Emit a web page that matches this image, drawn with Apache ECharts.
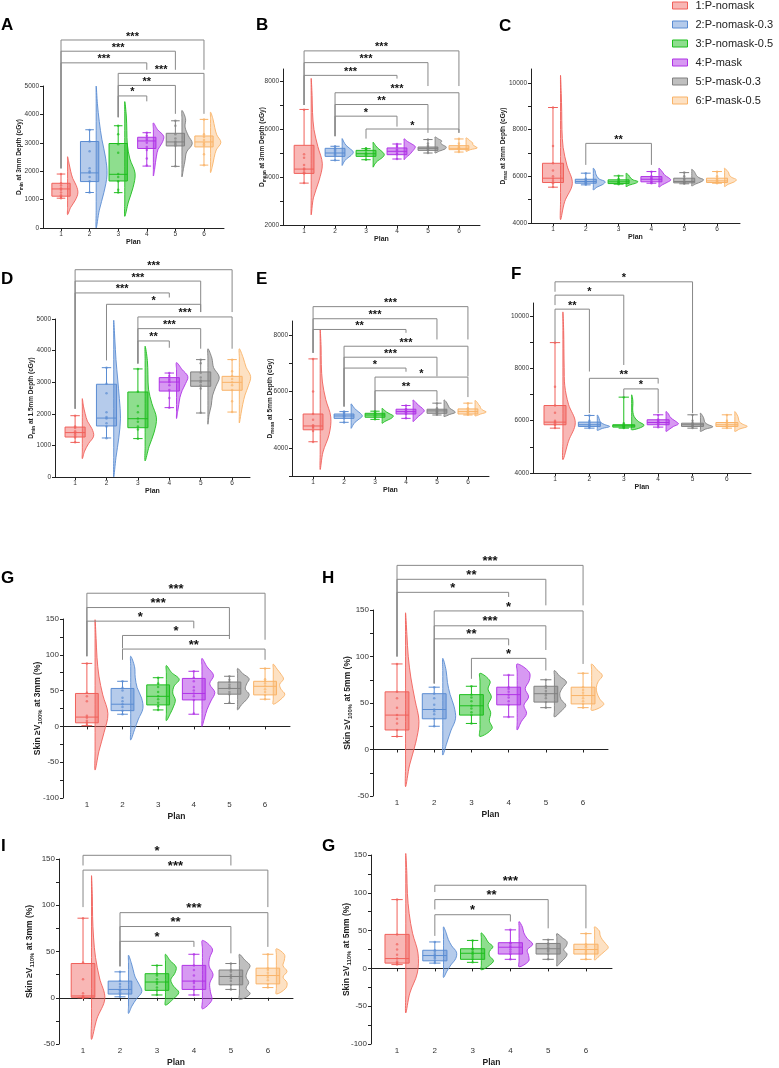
<!DOCTYPE html>
<html>
<head>
<meta charset="utf-8">
<script src="https://cdn.jsdelivr.net/npm/echarts@6/dist/echarts.min.js"></script>
<style>
html, body { margin: 0; padding: 0; background: #fff; }
#chart { width: 779px; height: 1068px; }
</style>
</head>
<body>
<div id="chart"></div>
<script>
// plan names + category ticks
var plans = ['1:P-nomask', '2:P-nomask-0.3', '3:P-nomask-0.5', '4:P-mask', '5:P-mask-0.3', '6:P-mask-0.5'];
var planTicks = [1, 2, 3, 4, 5, 6];

// box stats per plan: [min, q1, median, q3, max]
var boxA = [[1050, 1120, 1375, 1575, 1900], [1250, 1635, 1940, 3045, 3460], [1245, 1655, 1890, 2975, 3600], [2180, 2800, 3065, 3195, 3355], [2170, 2890, 3030, 3335, 3775], [2215, 2855, 3030, 3240, 3825]];
var boxB = [[3745, 4150, 4330, 5320, 6815], [4695, 4860, 5000, 5195, 5280], [4720, 4860, 4970, 5110, 5180], [4750, 4930, 5070, 5210, 5375], [5000, 5110, 5195, 5250, 5560], [5040, 5140, 5195, 5305, 5585]];
var boxC = [[5535, 5735, 5920, 6560, 8950], [5635, 5705, 5780, 5875, 6135], [5665, 5690, 5765, 5850, 6020], [5705, 5765, 5875, 5990, 6205], [5680, 5720, 5780, 5920, 6160], [5705, 5735, 5805, 5920, 6205]];
var boxD = [[1095, 1265, 1405, 1580, 1940], [1235, 1615, 1865, 2935, 3460], [1215, 1560, 1845, 2690, 3420], [2195, 2720, 3005, 3145, 3290], [2025, 2870, 3040, 3325, 3715], [2055, 2745, 2995, 3185, 3715]];
var boxE = [[4215, 4640, 4775, 5200, 7155], [4905, 5045, 5130, 5200, 5285], [5010, 5085, 5165, 5225, 5300], [5045, 5200, 5285, 5370, 5500], [5165, 5225, 5310, 5370, 5585], [5165, 5200, 5285, 5380, 5585]];
var boxF = [[5715, 5845, 5945, 6580, 8985], [5715, 5780, 5845, 5945, 6200], [5715, 5755, 5805, 5845, 6900], [5755, 5845, 5930, 6035, 6225], [5715, 5780, 5845, 5905, 6225], [5715, 5780, 5845, 5930, 6225]];
var boxG = [[1, 5, 13, 46, 88], [17, 22, 31, 53, 63], [23, 30, 42, 58, 68], [17, 37, 46, 67, 77], [32, 45, 53, 62, 70], [38, 44, 56, 63, 81]];
var boxH = [[14, 21, 37, 62, 92], [25, 33, 43, 60, 67], [28, 37, 47, 59, 68], [35, 48, 59, 67, 80], [45, 51, 60, 68, 75], [45, 49, 58, 67, 82]];
var boxI = [[0, 0.5, 2, 37, 86], [1, 4, 9, 18, 28], [3, 8, 17, 26, 35], [3, 9, 18, 35, 47], [9, 14, 23, 30, 37], [11, 15, 24, 32, 47]];
var boxJ = [[5, 7, 13, 45, 91], [7, 10, 17, 24, 35], [8, 12, 20, 26, 37], [12, 19, 28, 34, 51], [12, 19, 26, 33, 38], [12, 19, 25, 32, 46]];

// individual patients per plan
var ptsA = [[1050, 1100, 1150, 1250, 1350, 1400, 1500, 1580, 1900], [1250, 1650, 1800, 1950, 2000, 2100, 2700, 3050, 3450], [1250, 1350, 1650, 1800, 1900, 2650, 2950, 3300, 3600], [2200, 2450, 2750, 2850, 3000, 3100, 3150, 3250, 3350], [2170, 2900, 2950, 3000, 3050, 3150, 3300, 3600, 3780], [2210, 2600, 2900, 2950, 3000, 3100, 3200, 3300, 3820]];
var ptsB = [[3750, 4150, 4200, 4300, 4350, 4500, 4800, 4950, 6800], [4700, 4900, 4950, 5000, 5050, 5100, 5150, 5200, 5280], [4720, 4900, 4950, 5000, 5100, 5150, 5180, 5200], [4750, 4950, 5000, 5100, 5150, 5250, 5300, 5380], [5000, 5100, 5150, 5200, 5250, 5300, 5400, 5560], [5040, 5150, 5200, 5220, 5250, 5300, 5400, 5590]];
var ptsC = [[5540, 5700, 5800, 5900, 6000, 6250, 6560, 7300, 8950], [5640, 5700, 5750, 5780, 5800, 5850, 5900, 6130], [5660, 5700, 5740, 5760, 5800, 5850, 5900, 6020], [5700, 5750, 5800, 5870, 5900, 5950, 6000, 6200], [5680, 5720, 5760, 5780, 5850, 5900, 6000, 6160], [5700, 5740, 5780, 5800, 5850, 5900, 6000, 6200]];
var ptsD = [[1100, 1250, 1300, 1350, 1400, 1450, 1550, 1600, 1940], [1230, 1600, 1700, 1850, 1900, 2050, 2650, 2950, 3460], [1210, 1500, 1600, 1750, 1850, 2050, 2250, 2700, 3420], [2190, 2500, 2750, 2900, 3000, 3050, 3100, 3200, 3290], [2030, 2800, 2900, 3000, 3050, 3150, 3300, 3600, 3710], [2060, 2400, 2750, 2900, 3000, 3100, 3200, 3350, 3710]];
var ptsE = [[4210, 4600, 4700, 4750, 4800, 5000, 5200, 6000, 7150], [4900, 5050, 5100, 5130, 5150, 5200, 5250, 5290], [5010, 5080, 5120, 5160, 5200, 5220, 5250, 5300], [5050, 5200, 5250, 5280, 5300, 5350, 5380, 5500], [5170, 5220, 5250, 5280, 5300, 5350, 5400, 5580], [5170, 5200, 5250, 5280, 5300, 5350, 5400, 5580]];
var ptsF = [[5720, 5840, 5900, 5950, 6000, 6300, 6580, 7300, 8980], [5720, 5780, 5800, 5840, 5880, 5940, 6000, 6200], [5720, 5750, 5780, 5800, 5820, 5840, 5900, 6900], [5750, 5840, 5900, 5930, 5960, 6000, 6050, 6220], [5720, 5780, 5800, 5840, 5880, 5910, 6000, 6220], [5720, 5780, 5800, 5840, 5880, 5930, 6000, 6220]];
var ptsG = [[2, 5, 8, 12, 15, 35, 42, 47, 88], [17, 22, 27, 31, 35, 40, 50, 54, 63], [23, 28, 33, 38, 42, 48, 55, 60, 68], [18, 37, 42, 46, 50, 55, 63, 68, 77], [33, 45, 48, 53, 55, 58, 62, 65, 70], [38, 44, 48, 52, 56, 60, 63, 66, 81]];
var ptsH = [[14, 21, 28, 33, 37, 45, 55, 62, 92], [25, 33, 38, 41, 43, 48, 55, 60, 67], [28, 37, 40, 44, 47, 52, 56, 59, 68], [35, 48, 52, 56, 59, 62, 65, 67, 80], [45, 51, 55, 58, 60, 63, 66, 68, 75], [45, 49, 52, 55, 58, 61, 64, 67, 82]];
var ptsI = [[0, 0, 0.5, 1, 2, 5, 20, 38, 86], [1, 4, 6, 8, 9, 12, 15, 18, 28], [3, 8, 11, 15, 17, 20, 24, 26, 35], [3, 9, 12, 16, 18, 24, 30, 35, 47], [9, 14, 18, 21, 23, 25, 28, 30, 37], [11, 15, 19, 22, 24, 27, 30, 32, 47]];
var ptsJ = [[5, 7, 9, 13, 18, 25, 32, 45, 91], [7, 10, 13, 15, 17, 19, 22, 24, 35], [8, 12, 15, 18, 20, 22, 25, 26, 37], [12, 19, 22, 25, 28, 30, 33, 34, 51], [12, 19, 22, 24, 26, 28, 31, 33, 38], [12, 19, 21, 23, 25, 28, 30, 32, 46]];

// half violins: [low end, high end, relative density at even steps from low to high]
var vioA = [[470, 2510, [0, .3, .75, 1, .85, .5, .3, .15, 0]], [0, 5000, [0, .3, .75, 1.05, .9, .55, .3, .12, 0]], [410, 4450, [0, .35, .8, 1, .5, .25, .2, .15, 0]], [1830, 3700, [0, .12, .2, .3, .45, .85, 1, .4, 0]], [1800, 4140, [0, .15, .3, .45, 1, .6, .3, .35, 0]], [1950, 4080, [0, .2, .35, .55, 1, .6, .4, .25, 0]]];
var vioB = [[2420, 8110, [0, .2, .7, 1, .6, .25, .12, .08, 0]], [4480, 5600, [0, .15, .4, .8, 1, .7, .35, .15, 0]], [4410, 5450, [0, .15, .4, .8, 1, .8, .45, .2, 0]], [4720, 5590, [0, .2, .5, .7, .9, 1, .7, .3, 0]], [5000, 5670, [0, .4, .9, 1, .7, .5, .6, .3, 0]], [5070, 5630, [0, .4, 1, .8, .6, .6, .4, .25, 0]]];
var vioC = [[4140, 10330, [0, .35, 1, .55, .22, .12, .1, .06, 0]], [5420, 6350, [0, .3, .8, 1, .5, .3, .2, .15, 0]], [5560, 6130, [0, .3, .8, 1, .6, .4, .3, .2, 0]], [5540, 6350, [0, .3, .7, 1, .8, .5, .35, .2, 0]], [5590, 6300, [0, .35, .8, 1, .6, .4, .3, .2, 0]], [5560, 6350, [0, .3, .8, 1, .6, .4, .35, .2, 0]]];
var vioD = [[580, 2480, [0, .2, .55, 1, .85, .45, .25, .1, 0]], [0, 4960, [0, .2, .45, .6, .5, .35, .2, .1, 0]], [510, 4140, [0, .35, .8, 1, .6, .3, .25, .2, 0]], [1850, 3620, [0, .1, .2, .3, .5, .8, 1, .5, 0]], [1670, 4060, [0, .1, .3, .4, .7, 1, .5, .35, 0]], [1710, 4060, [0, .15, .3, .5, .8, 1, .6, .35, 0]]];
var vioE = [[3230, 8200, [0, .25, .8, .95, .5, .2, .1, .08, 0]], [4690, 5560, [0, .15, .35, .7, 1, .8, .45, .2, 0]], [4870, 5400, [0, .25, .6, .9, 1, .7, .4, .2, 0]], [4930, 5700, [0, .25, .5, .8, 1, .8, .5, .25, 0]], [5110, 5700, [0, .5, 1, .8, .5, .4, .3, .2, 0]], [5130, 5680, [0, .5, 1, .7, .5, .45, .3, .2, 0]]];
var vioF = [[4510, 10160, [0, .45, 1, .45, .15, .1, .08, .06, 0]], [5630, 6220, [0, .4, 1, .6, .3, .2, .15, .1, 0]], [5650, 6990, [0, 1, .5, .2, .1, .08, .1, .08, 0]], [5590, 6350, [0, .3, .6, 1, .8, .5, .3, .2, 0]], [5590, 6290, [0, .4, 1, .6, .35, .3, .25, .15, 0]], [5590, 6350, [0, .4, 1, .6, .35, .3, .25, .15, 0]]];
var vioG = [[-61, 149, [0, .3, .7, 1, .6, .3, .15, .08, 0]], [-19, 98, [0, .3, .6, .95, .85, .5, .35, .3, 0]], [8, 85, [0, .3, .55, .7, .5, .6, 1, .4, 0]], [0, 95, [0, .2, .4, .7, 1, .6, .9, .4, 0]], [23, 81, [0, .3, .7, .9, .6, .7, .9, .4, 0]], [31, 87, [0, .6, .9, .6, .5, .8, .6, .3, 0]]];
var vioH = [[-40, 147, [0, .3, .75, 1, .7, .4, .2, .1, 0]], [-6, 98, [0, .3, .6, .95, .85, .55, .35, .25, 0]], [14, 82, [0, .9, .7, .8, .6, .85, .6, .75, 0]], [21, 92, [0, .3, .7, .5, .85, .6, .9, .9, 0]], [35, 85, [0, .5, .85, .5, .4, .6, .9, .4, 0]], [42, 92, [0, .9, .6, .4, .35, .5, .8, .4, 0]]];
var vioI = [[-45, 132, [0, .4, 1, .6, .3, .15, .08, .06, 0]], [-17, 46, [0, .25, .6, 1, .8, .5, .35, .2, 0]], [-8, 47, [0, .6, 1, .6, .4, .7, .8, .35, 0]], [-12, 62, [0, .7, .6, .55, .8, .5, .55, .75, 0]], [-2, 47, [0, .8, .5, .7, .5, .6, .8, .4, 0]], [4, 53, [0, .7, .8, .5, .8, .5, .6, .6, 0]]];
var vioJ = [[-59, 152, [0, .3, .85, .9, .5, .25, .12, .08, 0]], [-12, 55, [0, .25, .55, .9, .95, .6, .35, .2, 0]], [-2, 47, [0, .6, .9, .6, .6, .85, .5, .3, 0]], [2, 62, [0, .7, .7, .6, 1, .6, .35, .25, 0]], [3, 46, [0, .3, .6, .75, .5, .7, .75, .4, 0]], [11, 55, [0, .35, .7, 1, .8, .55, .4, .35, 0]]];

// significance brackets: [plan a, plan b, bar level, leg end at a, leg end at b, stars]
var sigA = [[1, 6, 6620, 2100, 5570, '***'], [1, 5, 6225, 2100, 5570, '***'], [1, 4, 5815, 2100, 5570, '***'], [3, 6, 5445, 3900, 4020, '***'], [3, 5, 5020, 3900, 4020, '**'], [3, 4, 4650, 3900, 4460, '*']];
var sigB = [[1, 6, 9255, 7000, 7790, '***'], [1, 5, 8765, 7000, 7790, '***'], [1, 4, 8235, 7000, 8100, '***'], [2, 6, 7510, 5700, 5840, '***'], [2, 5, 7020, 5700, 5840, '**'], [2, 4, 6535, 5700, 6100, '*'], [3, 6, 6000, 5600, 5840, '*']];
var sigC = [[2, 4, 7413, 6490, 6490, '**']];
var sigD = [[1, 6, 6560, 2160, 5220, '***'], [1, 5, 6200, 2160, 5220, '***'], [1, 4, 5825, 2160, 5680, '***'], [2, 5, 5465, 3690, 5220, '*'], [3, 6, 5065, 3590, 4060, '***'], [3, 5, 4695, 3590, 4060, '***'], [3, 4, 4305, 3590, 4090, '**']];
var sigE = [[1, 6, 9010, 7370, 7845, '***'], [1, 5, 8580, 7370, 7845, '***'], [1, 4, 8200, 7370, 8080, '**'], [2, 6, 7605, 5465, 6535, '***'], [2, 5, 7215, 5465, 6535, '***'], [2, 4, 6830, 5465, 6700, '*'], [3, 6, 6510, 5285, 5800, '*'], [3, 5, 6025, 5285, 5640, '**']];
var sigF = [[1, 5, 11310, 10930, 6290, '*'], [1, 3, 10800, 10420, 8130, '*'], [1, 2, 10265, 8980, 7880, '**'], [2, 4, 7620, 6290, 7420, '**'], [3, 4, 7215, 6920, 6290, '*']];
var sigG = [[1, 6, 186, 98, 121, '***'], [1, 5, 166, 98, 126, '***'], [1, 4, 147, 98, 137, '*'], [2, 5, 127, 109, 122, '*'], [2, 6, 108, 93, 93, '**']];
var sigH = [[1, 6, 198, 100, 155, '***'], [1, 5, 183, 100, 155, '**'], [1, 4, 169, 100, 164, '*'], [2, 6, 149, 71, 92, '*'], [2, 5, 133, 71, 107, '***'], [2, 4, 119, 71, 112, '**'], [3, 5, 98, 76, 85, '*']];
var sigI = [[1, 5, 154, 143, 143, '*'], [1, 6, 138, 98, 98, '***'], [2, 6, 92, 34, 55, '***'], [2, 5, 77, 34, 48, '**'], [2, 4, 61, 34, 55, '*']];
var sigJ = [[2, 6, 110, 101, 53, '***'], [2, 5, 91, 78, 53, '**'], [2, 4, 71, 43, 62, '*']];

// y axis ticks
var ticksA = [0, 1000, 2000, 3000, 4000, 5000];
var ticksB = [2000, 4000, 6000, 8000];
var ticksC = [4000, 6000, 8000, 10000];
var ticksE = [4000, 6000, 8000];
var ticksSkin = [-100, -50, 0, 50, 100, 150];

var lineCol = ['#F0605A', '#5A8CD2', '#1EBE1E', '#B033E6', '#808080', '#F9B368'];
var fillCol = ['rgba(240,96,90,0.45)', 'rgba(90,140,210,0.45)', 'rgba(30,190,30,0.5)', 'rgba(176,51,230,0.5)', 'rgba(128,128,128,0.5)', 'rgba(249,179,104,0.4)'];

function range(a, b, s) { var r = []; for (var v = a; v <= b + 1e-9; v += s) r.push(v); return r; }

var panels = [
  { letter: 'A', lx: 1, ly: 17, box: boxA, pts: ptsA, vio: vioA, sig: sigA, left: 43, top: 86, width: 181, height: 142, xMin: 0.37, xMax: 6.70, yMin: 0, yMax: 5000, labels: ticksA, ticks: ticksA, name: ['D', 'min', ' at 3mm Depth (cGy)'], nameGap: 19, big: false },
  { letter: 'B', lx: 256, ly: 17, box: boxB, pts: ptsB, vio: vioB, sig: sigB, left: 283, top: 69, width: 197, height: 156, xMin: 0.32, xMax: 6.68, yMin: 2000, yMax: 8500, labels: ticksB, ticks: range(2000, 8000, 1000), name: ['D', 'mean', ' at 3mm Depth (cGy)'], nameGap: 16, big: false },
  { letter: 'C', lx: 499, ly: 18, box: boxC, pts: ptsC, vio: vioC, sig: sigC, left: 531, top: 69, width: 209, height: 154, xMin: 0.33, xMax: 6.70, yMin: 4000, yMax: 10600, labels: ticksC, ticks: range(4000, 10000, 1000), name: ['D', 'max', ' at 3mm Depth (cGy)'], nameGap: 23, big: false },
  { letter: 'D', lx: 1, ly: 271, box: boxD, pts: ptsD, vio: vioD, sig: sigD, left: 55, top: 319, width: 195, height: 158, xMin: 0.36, xMax: 6.57, yMin: 0, yMax: 5000, labels: ticksA, ticks: ticksA, name: ['D', 'min', ' at 1.5mm Depth (cGy)'], nameGap: 19, big: false },
  { letter: 'E', lx: 256, ly: 271, box: boxE, pts: ptsE, vio: vioE, sig: sigE, left: 292, top: 321, width: 197, height: 155, xMin: 0.32, xMax: 6.68, yMin: 3000, yMax: 8500, labels: ticksE, ticks: range(3000, 8000, 1000), name: ['D', 'mean', ' at 5mm Depth (cGy)'], nameGap: 17, big: false },
  { letter: 'F', lx: 511, ly: 266, box: boxF, pts: ptsF, vio: vioF, sig: sigF, left: 533, top: 303, width: 218, height: 170, xMin: 0.36, xMax: 6.70, yMin: 4000, yMax: 10500, labels: ticksC, ticks: range(4000, 10000, 1000), name: null, nameGap: 20, big: false },
  { letter: 'G', lx: 1, ly: 570, box: boxG, pts: ptsG, vio: vioG, sig: sigG, left: 63, top: 619, width: 227, height: 179, xMin: 0.33, xMax: 6.70, yMin: -100, yMax: 150, labels: ticksSkin, ticks: range(-100, 150, 25), name: ['Skin \u2265V', '100%', ' at 3mm (%)'], nameGap: 20, big: true },
  { letter: 'H', lx: 322, ly: 570, box: boxH, pts: ptsH, vio: vioH, sig: sigH, left: 373, top: 610, width: 235, height: 186, xMin: 0.355, xMax: 6.67, yMin: -50, yMax: 150, labels: ticksSkin.slice(1), ticks: range(-50, 150, 25), name: ['Skin \u2265V', '100%', ' at 5mm (%)'], nameGap: 20, big: true },
  { letter: 'I', lx: 1, ly: 838, box: boxI, pts: ptsI, vio: vioI, sig: sigI, left: 59, top: 859, width: 234, height: 185, xMin: 0.35, xMax: 6.68, yMin: -50, yMax: 150, labels: ticksSkin.slice(1), ticks: range(-50, 150, 25), name: ['Skin \u2265V', '110%', ' at 3mm (%)'], nameGap: 24, big: true },
  { letter: 'G', lx: 322, ly: 838, box: boxJ, pts: ptsJ, vio: vioJ, sig: sigJ, left: 371, top: 855, width: 241, height: 189, xMin: 0.31, xMax: 6.69, yMin: -100, yMax: 150, labels: ticksSkin, ticks: range(-100, 150, 25), name: ['Skin \u2265V', '110%', ' at 5mm (%)'], nameGap: 19, big: true }
];

// violin + box + whiskers for one plan
function planItem(stat, vio, k) {
  return function (params, api) {
    var c = k + 1, W = 0.36, base = c + 0.23, bw = 0.32, cw = 0.15;
    var lo = vio[0], hi = vio[1], d = vio[2], n = d.length - 1;
    var pts = [], i;
    for (i = 0; i <= n; i++) pts.push(api.coord([base + d[i] * W, lo + (hi - lo) * i / n]));
    for (i = n - 1; i >= 1; i--) pts.push(api.coord([base, lo + (hi - lo) * i / n]));
    var tl = api.coord([c - bw, stat[3]]), br = api.coord([c + bw, stat[1]]);
    var m1 = api.coord([c - bw, stat[2]]), m2 = api.coord([c + bw, stat[2]]);
    var top = api.coord([c, stat[4]]), bot = api.coord([c, stat[0]]);
    var q3 = api.coord([c, stat[3]]), q1 = api.coord([c, stat[1]]);
    var capL = api.coord([c - cw, 0])[0], capR = api.coord([c + cw, 0])[0];
    var ls = { stroke: lineCol[k], lineWidth: 1 };
    return {
      type: 'group',
      children: [
        { type: 'polygon', shape: { points: pts, smooth: 0.35 }, style: { fill: fillCol[k], stroke: lineCol[k], lineWidth: 0.9 } },
        { type: 'rect', shape: { x: tl[0], y: tl[1], width: br[0] - tl[0], height: br[1] - tl[1] }, style: { fill: fillCol[k], stroke: lineCol[k], lineWidth: 1 } },
        { type: 'line', shape: { x1: m1[0], y1: m1[1], x2: m2[0], y2: m2[1] }, style: ls },
        { type: 'line', shape: { x1: q3[0], y1: q3[1], x2: top[0], y2: top[1] }, style: ls },
        { type: 'line', shape: { x1: q1[0], y1: q1[1], x2: bot[0], y2: bot[1] }, style: ls },
        { type: 'line', shape: { x1: capL, y1: top[1], x2: capR, y2: top[1] }, style: ls },
        { type: 'line', shape: { x1: capL, y1: bot[1], x2: capR, y2: bot[1] }, style: ls }
      ]
    };
  };
}

function sigItem(sig, big) {
  return function (params, api) {
    var b = sig[params.dataIndex];
    var p1 = api.coord([b[0], b[3]]), p2 = api.coord([b[0], b[2]]);
    var p3 = api.coord([b[1], b[2]]), p4 = api.coord([b[1], b[4]]);
    return {
      type: 'group',
      children: [
        { type: 'polyline', shape: { points: [p1, p2, p3, p4] }, style: { stroke: '#888', lineWidth: 1, fill: null } },
        { type: 'text', x: (p2[0] + p3[0]) / 2, y: p2[1] - (big ? 4 : 3.5),
          style: { text: b[5], fill: '#111', font: 'bold ' + (big ? 13 : 11) + 'px "Liberation Sans", Arial', align: 'center', verticalAlign: 'middle' } }
      ]
    };
  };
}

function plain(v) { return String(v); }

var option = {
  animation: false,
  backgroundColor: '#fff',
  textStyle: { fontFamily: '"Liberation Sans", Arial, sans-serif' },
  title: [],
  grid: [],
  xAxis: [],
  yAxis: [],
  series: [],
  legend: {
    orient: 'vertical',
    left: 672,
    top: 0,
    padding: 0,
    itemWidth: 15,
    itemHeight: 7,
    itemGap: 8,
    icon: 'rect',
    selectedMode: false,
    textStyle: { fontSize: 11, color: '#222', padding: [0, 0, 0, 3] },
    data: plans.map(function (n, k) {
      return { name: n, itemStyle: { color: fillCol[k], borderColor: lineCol[k], borderWidth: 1 } };
    })
  }
};

panels.forEach(function (p, g) {
  var fs = p.big ? 8 : 6.5;
  var axisCol = '#222';
  option.title.push({
    text: p.letter, left: p.lx, top: p.ly, padding: 0,
    textStyle: { fontSize: 17, fontWeight: 'bold', color: '#000' }
  });
  option.grid.push({ left: p.left, top: p.top, width: p.width, height: p.height, outerBoundsMode: 'none' });
  option.xAxis.push({
    type: 'value', gridIndex: g, min: p.xMin, max: p.xMax,
    name: 'Plan', nameLocation: 'middle', nameGap: p.big ? 14 : 11,
    nameTextStyle: { fontSize: p.big ? 8.5 : 7, fontWeight: 'bold', color: '#222' },
    axisLine: { lineStyle: { color: axisCol, width: 1 } },
    axisTick: { show: true, length: 3, customValues: planTicks, lineStyle: { color: axisCol } },
    axisLabel: { customValues: planTicks, fontSize: fs, color: '#333', margin: 3, formatter: plain },
    splitLine: { show: false }
  });
  var nm = null, rich = null;
  if (p.name) {
    nm = '{t|' + p.name[0] + '}{s|' + p.name[1] + '}{t|' + p.name[2] + '}';
    var nf = p.big ? 8.5 : 6.5;
    rich = {
      t: { fontSize: nf, fontWeight: 'bold', color: '#222', lineHeight: nf + 3 },
      s: { fontSize: nf * 0.7, fontWeight: 'bold', color: '#222', lineHeight: nf + 3, verticalAlign: 'bottom' }
    };
  }
  option.yAxis.push({
    type: 'value', gridIndex: g, min: p.yMin, max: p.yMax,
    name: nm, nameLocation: 'middle', nameGap: p.nameGap, nameMoveOverlap: false,
    nameTextStyle: rich ? { rich: rich } : {},
    axisLine: { show: true, lineStyle: { color: axisCol, width: 1 } },
    axisTick: { show: true, length: 3, customValues: p.ticks, lineStyle: { color: axisCol } },
    axisLabel: { customValues: p.labels, fontSize: fs, color: '#333', margin: 4, formatter: plain },
    splitLine: { show: false }
  });
  plans.forEach(function (name, k) {
    option.series.push({
      type: 'custom', name: name, xAxisIndex: g, yAxisIndex: g, clip: false,
      renderItem: planItem(p.box[k], p.vio[k], k),
      data: [[k + 1, p.box[k][2]]]
    });
    option.series.push({
      type: 'scatter', name: name, xAxisIndex: g, yAxisIndex: g,
      symbolSize: 2.5, silent: true,
      itemStyle: { color: lineCol[k], opacity: 0.7 },
      data: p.pts[k].map(function (v) { return [k + 1, v]; })
    });
  });
  option.series.push({
    type: 'custom', name: 'sig' + g, xAxisIndex: g, yAxisIndex: g, clip: false, silent: true,
    renderItem: sigItem(p.sig, p.big),
    data: p.sig.map(function (b) { return [(b[0] + b[1]) / 2, b[2]]; })
  });
});

var chart = echarts.init(document.getElementById('chart'), null, { renderer: 'canvas' });
chart.setOption(option);
</script>
</body>
</html>
